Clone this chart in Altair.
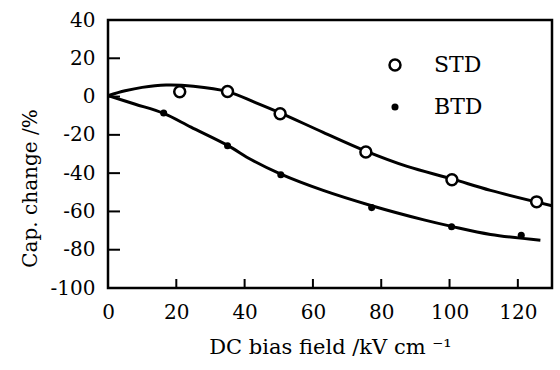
import altair as alt
import pandas as pd

# ---- data ----
std_x = [21, 35, 50.4, 75.5, 100.7, 125.5]
std_y = [2.5, 2.6, -9, -29, -43.5, -55]
btd_x = [16.3, 35, 50.6, 77.2, 100.6, 121]
btd_y = [-8.6, -25.7, -40.8, -58, -68, -72.4]

std_curve_x = [0, 5, 10, 17, 25, 35, 43, 50.4, 63, 75.5, 87.6, 100.7, 112, 130]
std_curve_y = [0.5, 3.0, 4.8, 6.0, 5.4, 2.6, -3.0, -8.5, -18.7, -28.5, -36.5, -43, -49, -57]
btd_curve_x = [0, 8, 16.3, 24.3, 35, 42, 50.6, 63, 77.2, 92.5, 100.6, 112, 126.6]
btd_curve_y = [0.5, -4, -8.8, -16, -25.5, -33, -40.5, -49, -57, -64.4, -67.8, -72, -75]

x_ticks = [0, 20, 40, 60, 80, 100, 120]
y_ticks = [-100, -80, -60, -40, -20, 0, 20, 40]
x_inner_ticks = [20, 40, 60, 80, 100, 120]
y_inner_ticks = [-80, -60, -40, -20, 0, 20]
legend_labels = ["STD", "BTD"]

FONT = "DejaVu Serif"
W, H = 444, 268

std_pts = pd.DataFrame({"x": std_x, "y": std_y})
btd_pts = pd.DataFrame({"x": btd_x, "y": btd_y})
std_c = pd.DataFrame({"x": std_curve_x, "y": std_curve_y})
btd_c = pd.DataFrame({"x": btd_curve_x, "y": btd_curve_y})

xs = alt.Scale(domain=[0, 130], nice=False, zero=False)
ys = alt.Scale(domain=[-100, 40], nice=False, zero=False)

X = alt.X("x:Q", scale=xs, axis=alt.Axis(
    values=x_ticks, title="DC bias field /kV cm \u207b\u00b9", grid=False, domain=False,
    ticks=False, tickSize=0, labelPadding=14, labelFont=FONT, labelFontSize=20,
    labelColor="black", labelOverlap=False, labelFlush=False, labelBound=False,
    titleFont=FONT, titleFontSize=21, titleFontWeight="normal",
    titleColor="black", titlePadding=14))
Y = alt.Y("y:Q", scale=ys, axis=alt.Axis(
    values=y_ticks, title="Cap. change /%", grid=False, domain=False,
    ticks=False, tickSize=0, labelPadding=13, labelFont=FONT, labelFontSize=20,
    labelExpr="datum.value < 0 ? '-' + abs(datum.value) : '' + datum.value",
    labelColor="black", labelOverlap=False, labelFlush=False, labelBound=False,
    titleFont=FONT, titleFontSize=20, titleFontWeight="normal",
    titleColor="black", titleAngle=-90, titleX=-78, titleY=168,
    titleAlign="center", titleBaseline="middle"))

std_line = alt.Chart(std_c).mark_line(color="black", strokeWidth=3, interpolate="catmull-rom").encode(x=X, y=Y)
btd_line = alt.Chart(btd_c).mark_line(color="black", strokeWidth=3, interpolate="catmull-rom").encode(x=X, y=Y)

std_mark = alt.Chart(std_pts).mark_point(shape="circle", filled=True, fill="white",
                                          stroke="black", strokeWidth=2.5, size=120,
                                          opacity=1).encode(x=X, y=Y)
btd_mark = alt.Chart(btd_pts).mark_point(shape="circle", filled=True, color="black",
                                          size=50, opacity=1).encode(x=X, y=Y)

xt = alt.Chart(pd.DataFrame({"x": x_inner_ticks})).mark_rule(color="black", strokeWidth=2).encode(
    x=X, y=alt.value(H), y2=alt.value(H - 9))
yt = alt.Chart(pd.DataFrame({"y": y_inner_ticks})).mark_rule(color="black", strokeWidth=2).encode(
    y=Y, x=alt.value(0), x2=alt.value(12))

leg_df1 = pd.DataFrame({"label": [legend_labels[0]]})
leg_df2 = pd.DataFrame({"label": [legend_labels[1]]})
leg_txt1 = alt.Chart(leg_df1).mark_text(font=FONT, fontSize=22, align="left", baseline="middle",
                                        color="black").encode(
    text="label:N", x=alt.value(326), y=alt.value(45))
leg_txt2 = alt.Chart(leg_df2).mark_text(font=FONT, fontSize=22, align="left", baseline="middle",
                                        color="black").encode(
    text="label:N", x=alt.value(326), y=alt.value(87))
leg_pt1 = alt.Chart(leg_df1).mark_point(shape="circle", filled=True, fill="white", stroke="black",
                                        strokeWidth=2.5, size=120, opacity=1).encode(
    x=alt.value(287), y=alt.value(45))
leg_pt2 = alt.Chart(leg_df2).mark_point(shape="circle", filled=True, color="black",
                                        size=50, opacity=1).encode(
    x=alt.value(287), y=alt.value(87))

chart = alt.layer(std_line, btd_line, std_mark, btd_mark, xt, yt,
                  leg_pt1, leg_pt2, leg_txt1, leg_txt2).properties(
    width=W, height=H,
    autosize=alt.AutoSizeParams(type="none"),
    padding={"left": 108, "top": 20, "right": 8, "bottom": 82},
    background="white",
).configure_view(stroke="black", strokeWidth=2.5)

chart.save("out.html", embed_options={"renderer": "svg", "actions": False})
